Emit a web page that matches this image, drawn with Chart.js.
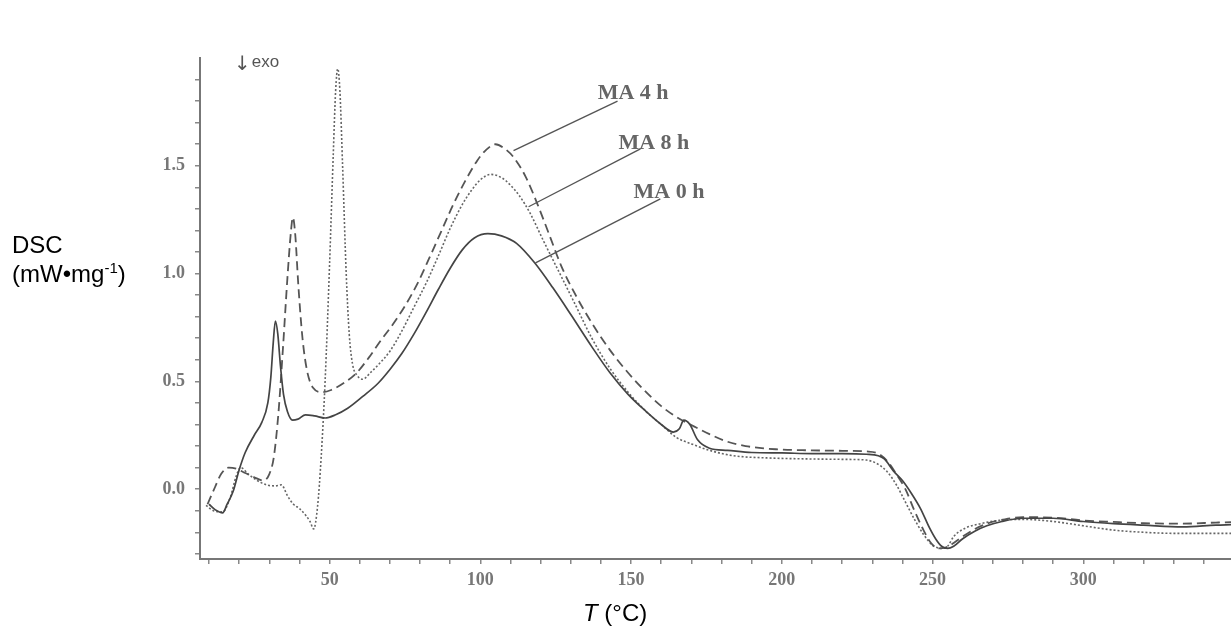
<!DOCTYPE html>
<html>
<head>
<meta charset="utf-8">
<title>DSC curves</title>
<script src="https://cdn.jsdelivr.net/npm/chart.js@4.4.1/dist/chart.umd.min.js"></script>
<style>
    body { margin: 0; background: #fff; }
    #wrap { position: relative; width: 1231px; height: 628px; overflow: hidden; }
    #dscChart { position: absolute; left: 0; top: 0; }
    .axis-title { position: absolute; font-family: "Liberation Sans", Arial, sans-serif; font-size: 24px; color: #000; line-height: 29px; }
    .axis-title sup { font-size: 15px; vertical-align: 9px; line-height: 0; }
    #yTitle { left: 12px; top: 230px; }
    #xTitle { left: 583px; top: 598px; }
</style>
</head>
<body>
<div id="wrap">
    <canvas id="dscChart" width="1231" height="628"></canvas>
    <div id="yTitle" class="axis-title">DSC<br>(mW•mg<sup>-1</sup>)</div>
    <div id="xTitle" class="axis-title"><i>T</i> (°C)</div>
</div>

<script>
// MA 0 h (solid)
const tempMA0 = [10, 12, 14.5, 16, 18, 20, 22, 25, 27.5, 29.5, 30.5, 31.3, 32, 32.8, 33.7, 34.7, 36, 37.7, 39.5, 42, 45, 48.5, 52, 56, 61, 66, 70, 74, 78, 82, 86, 90, 94, 98, 102.5, 107, 112, 118, 124, 130, 137, 143, 149, 155, 160, 164, 166, 167.5, 169.5, 172, 176, 182, 190, 200, 210, 220, 228, 232, 234, 237, 240, 243, 246, 249, 251, 253, 255, 257, 260, 264, 268, 273, 280, 290, 300, 310, 320, 333, 344, 349];
const dscMA0 = [-0.07, -0.095, -0.11, -0.07, -0.01, 0.09, 0.17, 0.25, 0.31, 0.40, 0.52, 0.68, 0.78, 0.72, 0.57, 0.44, 0.36, 0.32, 0.325, 0.345, 0.34, 0.33, 0.345, 0.375, 0.43, 0.49, 0.555, 0.63, 0.72, 0.82, 0.925, 1.025, 1.11, 1.165, 1.185, 1.175, 1.14, 1.05, 0.935, 0.81, 0.66, 0.54, 0.44, 0.36, 0.30, 0.265, 0.28, 0.32, 0.30, 0.23, 0.19, 0.18, 0.17, 0.168, 0.165, 0.165, 0.162, 0.155, 0.14, 0.085, 0.04, -0.02, -0.09, -0.18, -0.23, -0.265, -0.275, -0.265, -0.23, -0.195, -0.17, -0.15, -0.135, -0.135, -0.15, -0.16, -0.167, -0.175, -0.167, -0.165];

// MA 4 h (dashed)
const tempMA4 = [9.5, 12, 14, 16.5, 19, 22, 25, 28, 30, 31.5, 33, 34.5, 36, 37.2, 37.8, 38.6, 39.6, 41, 42.5, 44.5, 47.5, 50.5, 55, 59, 63, 67, 71, 75, 79, 83, 87, 91, 95, 99, 102, 105, 108, 111, 115, 119, 123, 127, 132, 137, 143, 149, 155, 160, 165, 171, 176, 182, 188, 198, 210, 220, 228, 232, 235, 238, 241, 244, 247, 249.5, 252, 254.5, 257, 260, 264, 268, 274, 280, 290, 300, 310, 320, 333, 344, 349];
const dscMA4 = [-0.07, 0.01, 0.07, 0.10, 0.095, 0.075, 0.055, 0.04, 0.07, 0.15, 0.35, 0.65, 0.98, 1.20, 1.26, 1.18, 0.95, 0.70, 0.55, 0.47, 0.45, 0.46, 0.495, 0.54, 0.61, 0.69, 0.765, 0.85, 0.95, 1.07, 1.195, 1.32, 1.43, 1.525, 1.575, 1.60, 1.58, 1.54, 1.45, 1.32, 1.175, 1.03, 0.89, 0.77, 0.645, 0.54, 0.45, 0.385, 0.335, 0.29, 0.255, 0.22, 0.20, 0.185, 0.18, 0.178, 0.175, 0.165, 0.13, 0.07, 0.0, -0.10, -0.19, -0.25, -0.275, -0.27, -0.25, -0.22, -0.185, -0.16, -0.14, -0.13, -0.132, -0.145, -0.152, -0.158, -0.16, -0.155, -0.153];

// MA 8 h (dotted)
const tempMA8 = [9, 11.5, 14.5, 17, 19, 20.5, 23, 26, 29, 32, 34, 36, 38, 40, 42, 43.5, 44.7, 46, 47.2, 48.5, 50, 51.2, 52, 52.7, 53.4, 54.3, 55.5, 56.5, 57.6, 59, 61, 63.5, 66, 70, 74, 78, 82, 86, 90, 94, 97, 100, 103.5, 107, 110, 113, 116.5, 121, 126, 131, 137, 143, 149, 155, 160, 165, 170, 176, 184, 195, 210, 222, 228, 232, 235, 238, 241, 244, 247, 250, 253, 255, 257, 261, 266, 272, 280, 290, 300, 310, 320, 330, 340, 349];
const dscMA8 = [-0.075, -0.10, -0.105, -0.04, 0.06, 0.10, 0.07, 0.04, 0.02, 0.015, 0.02, -0.03, -0.07, -0.09, -0.12, -0.15, -0.185, -0.08, 0.15, 0.50, 1.05, 1.55, 1.85, 1.95, 1.85, 1.50, 1.00, 0.72, 0.58, 0.53, 0.51, 0.54, 0.575, 0.64, 0.735, 0.845, 0.955, 1.08, 1.21, 1.32, 1.385, 1.435, 1.46, 1.445, 1.41, 1.36, 1.28, 1.15, 1.01, 0.87, 0.70, 0.56, 0.45, 0.36, 0.30, 0.24, 0.21, 0.18, 0.155, 0.145, 0.14, 0.138, 0.135, 0.115, 0.08, 0.02, -0.06, -0.14, -0.21, -0.26, -0.275, -0.265, -0.22, -0.18, -0.16, -0.145, -0.14, -0.15, -0.17, -0.19, -0.20, -0.205, -0.205, -0.205];

// curve labels and their leader lines (data units)
const curveNames = ['MA 4 h', 'MA 8 h', 'MA 0 h'];
const nameT = [138.9, 145.8, 150.8];
const nameV = [1.81, 1.579, 1.352];
const leaderT = [[145.5, 111], [153.1, 116], [159.7, 118.3]];
const leaderV = [[1.80, 1.57], [1.579, 1.31], [1.347, 1.05]];

const xTicks = [];
for (let t = 10; t <= 340; t += 10) xTicks.push(t);
const yTicks = [];
for (let i = -3; i <= 19; i++) yTicks.push(i / 10);

function toPoints(xs, ys) {
    return xs.map((x, i) => ({ x: x, y: ys[i] }));
}

const tickFont = { family: '"Liberation Serif", "Times New Roman", serif', size: 18, weight: 'bold' };

// text drawn on top of the plot
const annotate = {
    id: 'annotate',
    afterDatasetsDraw(chart) {
        const ctx = chart.ctx;
        const xs = chart.scales.x, ys = chart.scales.y;
        ctx.save();
        ctx.fillStyle = '#666';
        ctx.font = 'bold 22px "Liberation Serif", serif';
        ctx.textBaseline = 'alphabetic';
        curveNames.forEach((n, i) => {
            ctx.fillText(n, xs.getPixelForValue(nameT[i]), ys.getPixelForValue(nameV[i]));
        });
        // "exo" marker
        ctx.fillStyle = '#555';
        ctx.textBaseline = 'middle';
        ctx.font = '20px "DejaVu Sans", sans-serif';
        ctx.fillText('\u2193', xs.getPixelForValue(18.3), ys.getPixelForValue(1.97));
        ctx.font = '17px "Liberation Sans", sans-serif';
        ctx.fillText('exo', xs.getPixelForValue(24.2), ys.getPixelForValue(1.98));
        ctx.restore();
    }
};

const leaderSets = leaderT.map((ts, i) => ({
    data: toPoints(ts, leaderV[i]),
    borderColor: '#555',
    borderWidth: 1.4,
    pointRadius: 0
}));

new Chart(document.getElementById('dscChart'), {
    type: 'line',
    data: {
        datasets: [
            {
                label: 'MA 0 h',
                data: toPoints(tempMA0, dscMA0),
                borderColor: '#444',
                borderWidth: 1.7,
                pointRadius: 0,
                cubicInterpolationMode: 'monotone'
            },
            {
                label: 'MA 4 h',
                data: toPoints(tempMA4, dscMA4),
                borderColor: '#555',
                borderWidth: 1.8,
                borderDash: [9, 5],
                pointRadius: 0,
                cubicInterpolationMode: 'monotone'
            },
            {
                label: 'MA 8 h',
                data: toPoints(tempMA8, dscMA8),
                borderColor: '#666',
                borderWidth: 1.6,
                borderDash: [2, 2],
                pointRadius: 0,
                cubicInterpolationMode: 'monotone'
            },
            ...leaderSets
        ]
    },
    options: {
        responsive: false,
        animation: false,
        layout: { padding: { top: 58, right: 0, left: 0, bottom: 0 } },
        plugins: { legend: { display: false }, tooltip: { enabled: false } },
        scales: {
            x: {
                type: 'linear',
                min: 7,
                max: 349,
                afterFit(s) { s.height = 69; },
                afterBuildTicks(s) { s.ticks = xTicks.map(v => ({ value: v })); },
                border: { display: true, color: '#777', width: 2 },
                grid: { drawOnChartArea: false, tickLength: 5, color: '#888', lineWidth: 1.5 },
                ticks: {
                    padding: 6,
                    color: '#777',
                    font: tickFont,
                    maxRotation: 0,
                    autoSkip: false,
                    callback: v => (v % 50 === 0 ? String(v) : '')
                }
            },
            y: {
                min: -0.324,
                max: 2.0,
                afterFit(s) { s.width = 200; },
                afterBuildTicks(s) { s.ticks = yTicks.map(v => ({ value: v })); },
                border: { display: true, color: '#777', width: 2 },
                grid: { drawOnChartArea: false, tickLength: 5, color: '#888', lineWidth: 1.5 },
                ticks: {
                    padding: 10,
                    color: '#777',
                    font: tickFont,
                    autoSkip: false,
                    callback: function (v) {
                        const k = Math.round(v * 10);
                        return (k % 5 === 0 && k >= 0 && k <= 15) ? (k / 10).toFixed(1) : '';
                    }
                }
            }
        }
    },
    plugins: [annotate]
});
</script>
</body>
</html>
